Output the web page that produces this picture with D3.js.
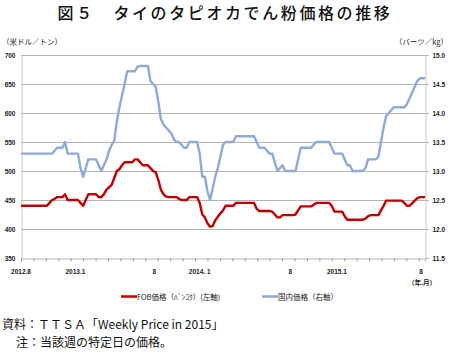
<!DOCTYPE html>
<html><head><meta charset="utf-8">
<script src="https://cdn.jsdelivr.net/npm/d3@7"></script>
<style>
html,body{margin:0;padding:0;background:#fff;}
svg{display:block;}
</style></head>
<body>
<svg id="c" width="450" height="352"></svg>
<script>
// FOB price (Bangkok), USD/ton, weekly, left axis
const fobPrice = [
 440,440,440,440,440,440,440,440,440,440,440,
 445,450,452,455,455,455,460,450,450,450,450,450,445,440,450,
 460,460,460,460,455,455,460,468,472,476,488,500,503,510,
 515,515,515,515,520,520,515,510,510,510,505,500,498,485,468,460,456,
 455,455,455,455,452,450,450,450,455,455,455,455,445,425,420,410,404,405,
 415,421,427,432,440,440,440,440,
 445,445,445,445,445,445,445,445,435,431,431,431,431,431,430,425,420,420,
 424,424,424,424,424,425,432,439,439,439,439,439,442,
 445,445,445,445,445,445,440,430,430,430,430,422,
 416,416,416,416,416,416,416,418,422,424,424,424,424,432,440,
 449,449,449,449,449,449,449,445,440,440,444,449,453,455,455,455
];
// Domestic price, baht/kg, weekly, right axis
const domesticPrice = [
 13.3,13.3,13.3,13.3,13.3,13.3,13.3,13.3,13.3,13.3,13.3,13.3,13.3,
 13.35,13.4,13.4,13.4,13.5,13.3,13.3,13.3,13.3,13.3,13.05,12.9,13.05,
 13.2,13.2,13.2,13.2,13.1,13.0,13.1,13.2,13.35,13.45,13.52,13.85,14.1,14.3,14.5,
 14.72,14.72,14.72,14.72,14.8,14.81,14.81,14.81,14.81,14.55,14.5,14.45,14.2,13.9,
 13.8,13.75,13.7,13.65,13.55,13.5,13.5,13.45,13.4,13.4,13.5,13.5,13.5,13.5,
 13.3,12.9,12.9,12.65,12.5,12.7,12.9,13.05,13.25,13.45,13.5,13.5,13.5,13.5,
 13.6,13.6,13.6,13.6,13.6,13.6,13.6,13.6,13.5,13.4,13.4,13.4,13.35,13.3,13.3,
 13.15,13.0,13.05,13.1,13.0,13.0,13.0,13.0,13.0,13.2,13.4,13.4,13.4,13.4,13.4,13.45,
 13.5,13.5,13.5,13.5,13.5,13.5,13.4,13.3,13.3,13.3,13.3,13.2,13.1,13.1,
 13.0,13.0,13.0,13.0,13.0,13.05,13.2,13.2,13.2,13.2,13.25,13.5,13.75,13.95,14.0,14.05,
 14.1,14.1,14.1,14.1,14.1,14.15,14.25,14.35,14.45,14.55,14.6,14.6,14.6
];
const leftTicks = [350,400,450,500,550,600,650,700];
const rightTicks = [11.5,12.0,12.5,13.0,13.5,14.0,14.5,15.0];
const xLabels = ["2012.8","2013.1","8","2014. 1","8","2015.1","8"];
const xLabelWeeks = [0,21,51.5,69,104,122,154.5];
const seriesNames = ["FOB価格（ﾊﾞﾝｺｸ）(左軸)","国内価格（右軸）"];
const colors = ["#c00000","#8eaad6"];

const svg = d3.select("#c");
const L = 21, R = 425, T = 55, B = 258;
const n = fobPrice.length;
const x = d3.scaleLinear().domain([0, n-1]).range([L, R]);
const yL = d3.scaleLinear().domain([350,700]).range([B, T]);
const yR = d3.scaleLinear().domain([11.5,15]).range([B, T]);

// title
svg.append("text").attr("x",225).attr("y",19).attr("text-anchor","middle")
  .attr("font-family","'Noto Sans CJK JP'").attr("font-size",16).attr("font-weight",500)
  .attr("letter-spacing",2.6).attr("fill","#111").text("図５　タイのタピオカでん粉価格の推移");

// units
svg.append("text").attr("x",2).attr("y",45).attr("font-family","'Noto Sans CJK JP'")
  .attr("font-size",7.5).attr("fill","#222").text("（米ドル／トン）");
svg.append("text").attr("x",448).attr("y",45).attr("text-anchor","end").attr("font-family","'Noto Sans CJK JP'")
  .attr("font-size",7.5).attr("fill","#222").text("（バーツ／kg）");

// gridlines
svg.append("g").selectAll("line").data(leftTicks.slice(1)).join("line")
  .attr("x1",L).attr("x2",R).attr("y1",d=>Math.round(yL(d))+0.5).attr("y2",d=>Math.round(yL(d))+0.5)
  .attr("stroke","#b4b4b4").attr("stroke-width",1);

// left axis
const gl = svg.append("g").attr("transform",`translate(${L+0.5},0)`)
  .call(d3.axisLeft(yL).tickValues(leftTicks).tickSize(0).tickPadding(6).tickFormat(d3.format("d")));
gl.select(".domain").attr("stroke","#c8c8c8");
gl.selectAll("text").attr("font-family","'Liberation Sans'").attr("font-size",6.5).attr("font-weight","bold").attr("fill","#222");

// right axis
const gr = svg.append("g").attr("transform",`translate(${R+0.5},0)`)
  .call(d3.axisRight(yR).tickValues(rightTicks).tickSize(3).tickPadding(4).tickFormat(d3.format(".1f")));
gr.select(".domain").attr("stroke","#c8c8c8");
gr.selectAll(".tick line").attr("stroke","#aaa");
gr.selectAll("text").attr("font-family","'Liberation Sans'").attr("font-size",6.5).attr("font-weight","bold").attr("fill","#222");

// bottom axis
const tickWeeks = d3.range(0, n, 4.8);
const gb = svg.append("g").attr("transform",`translate(0,${B+0.5})`)
  .call(d3.axisBottom(x).tickValues(tickWeeks).tickSize(3).tickFormat(""));
gb.select(".domain").attr("stroke","#b4b4b4");
gb.selectAll(".tick line").attr("stroke","#999");

svg.append("g").selectAll("text").data(xLabels).join("text")
  .attr("x",(d,i)=>x(xLabelWeeks[i])).attr("y",274).attr("text-anchor","middle")
  .attr("font-family","'Liberation Sans'").attr("font-size",6.5).attr("font-weight","bold").attr("fill","#222")
  .text(d=>d);
svg.append("text").attr("x",422).attr("y",285).attr("text-anchor","middle")
  .attr("font-family","'Noto Sans CJK JP'").attr("font-size",6.5).attr("font-weight","bold").attr("fill","#222").text("（年.月）");

// lines
const lineL = d3.line().x((d,i)=>x(i)).y(d=>yL(d));
const lineR = d3.line().x((d,i)=>x(i)).y(d=>yR(d));
svg.append("path").datum(domesticPrice).attr("d",lineR).attr("fill","none")
  .attr("stroke",colors[1]).attr("stroke-width",2.4).attr("stroke-linejoin","round");
svg.append("path").datum(fobPrice).attr("d",lineL).attr("fill","none")
  .attr("stroke",colors[0]).attr("stroke-width",2.4).attr("stroke-linejoin","round");

// legend
const lg = svg.append("g");
const legX = [121, 262];
seriesNames.forEach((s,i)=>{
  lg.append("line").attr("x1",legX[i]).attr("x2",legX[i]+16).attr("y1",296.5).attr("y2",296.5)
    .attr("stroke",colors[i]).attr("stroke-width",2.5);
  lg.append("text").attr("x",legX[i]+16).attr("y",299.5).attr("font-family","'Noto Sans CJK JP'")
    .attr("font-size",7.5).attr("fill","#222").text(s);
});

// notes
svg.append("text").attr("x",2).attr("y",329).attr("font-family","'Noto Sans CJK JP'")
  .attr("font-size",12).attr("fill","#111").text("資料：ＴＴＳＡ「Weekly Price in 2015」");
svg.append("text").attr("x",16).attr("y",347).attr("font-family","'Noto Sans CJK JP'")
  .attr("font-size",12).attr("fill","#111").text("注：当該週の特定日の価格。");
</script>
</body></html>
